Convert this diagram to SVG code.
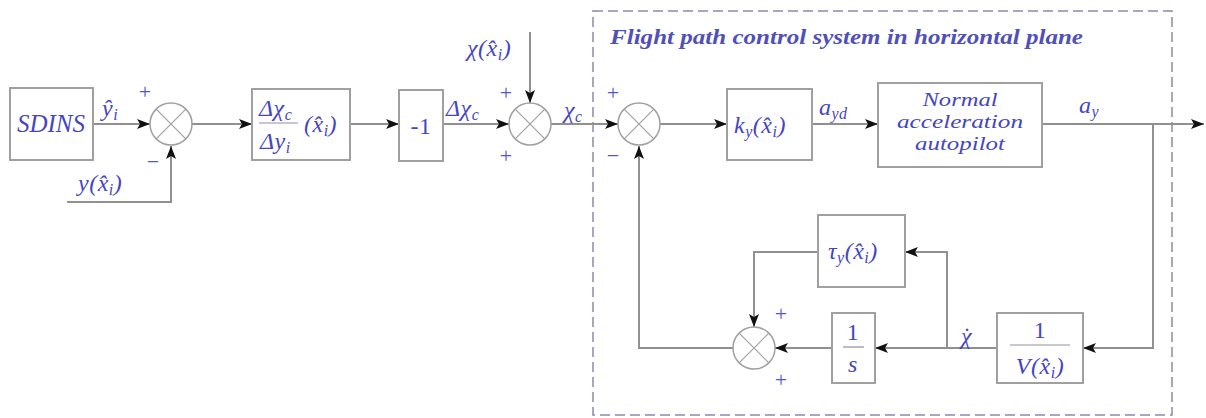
<svg xmlns="http://www.w3.org/2000/svg" width="1206" height="418" viewBox="0 0 1206 418">
<defs>
<style>
.box{fill:#fff;stroke:#a0a0a0;stroke-width:2}
.sum{fill:#fff;stroke:#a0a0a0;stroke-width:1.5}
.x{stroke:#a0a0a0;stroke-width:1.2}
.ln{fill:none;stroke:#909090;stroke-width:2}
.bar{stroke:#9090a0;stroke-width:1.2}
.t{font-family:"Liberation Serif",serif;font-style:italic;fill:#4646bf;font-size:24px;letter-spacing:0.5px}
.up{font-style:normal}
.c{text-anchor:middle}
.s{font-size:16px}
.sg{font-family:"Liberation Serif",serif;fill:#5555cc;font-size:22px;text-anchor:middle}
.ap{font-family:"Liberation Serif",serif;font-style:italic;fill:#4646bf;font-size:19px;text-anchor:middle}
.title{font-family:"Liberation Serif",serif;font-style:italic;font-weight:bold;fill:#5050b8;font-size:21px}
</style>
<marker id="ah" markerUnits="userSpaceOnUse" markerWidth="14" markerHeight="10" refX="13" refY="5" orient="auto">
<path d="M0,0 L13,5 L0,10 L3,5 Z" fill="#111"/>
</marker>
</defs>
<rect width="1206" height="418" fill="#fff"/>

<g id="subsystem">
<rect x="593" y="11" width="579" height="404" fill="none" stroke="#8a8aa8" stroke-width="1.5" stroke-dasharray="10 5"/>
<text class="title" x="610" y="44" textLength="473" lengthAdjust="spacingAndGlyphs">Flight path control system in horizontal plane</text>
</g>

<g id="connectors">
<path class="ln" d="M93,124 H150" marker-end="url(#ah)"/>
<path class="ln" d="M67,202 H171 V146" marker-end="url(#ah)"/>
<path class="ln" d="M192,124 H252" marker-end="url(#ah)"/>
<path class="ln" d="M350,124 H399" marker-end="url(#ah)"/>
<path class="ln" d="M443,124 H509" marker-end="url(#ah)"/>
<path class="ln" d="M530,32 V103" marker-end="url(#ah)"/>
<path class="ln" d="M551,124 H618" marker-end="url(#ah)"/>
<path class="ln" d="M660,124 H727" marker-end="url(#ah)"/>
<path class="ln" d="M812,124 H878" marker-end="url(#ah)"/>
<path class="ln" d="M1042,124 H1204" marker-end="url(#ah)"/>
<path class="ln" d="M1153,124 V348 H1083" marker-end="url(#ah)"/>
<path class="ln" d="M997,348 H875" marker-end="url(#ah)"/>
<path class="ln" d="M947,348 V252 H905" marker-end="url(#ah)"/>
<path class="ln" d="M818,252 H754 V327" marker-end="url(#ah)"/>
<path class="ln" d="M832,348 H775" marker-end="url(#ah)"/>
<path class="ln" d="M733,348 H639 V146" marker-end="url(#ah)"/>
</g>

<g id="sdins">
<rect class="box" x="10" y="88" width="83" height="72"/>
<text class="t c" x="51" y="132" style="font-size:25px;letter-spacing:0">SDINS</text>
</g>

<g id="labels-left">
<text class="t" x="102" y="116">ŷ<tspan class="s" dy="4">i</tspan></text>
<text class="sg" x="145" y="99">+</text>
<text class="sg" x="153" y="169">−</text>
<text class="t" x="78" y="191">y(x̂<tspan class="s" dy="4">i</tspan><tspan dy="-4">)</tspan></text>
</g>

<g id="sum1">
<circle class="sum" cx="171" cy="124" r="21"/>
<path class="x" d="M156.2,109.2 L185.8,138.8 M185.8,109.2 L156.2,138.8"/>
</g>

<g id="gain">
<rect class="box" x="252" y="89" width="98" height="71"/>
<text class="t" x="259" y="116">Δχ<tspan class="s" dy="4">c</tspan></text>
<line class="bar" x1="259" y1="123" x2="298" y2="123"/>
<text class="t" x="260" y="149">Δy<tspan class="s" dy="4">i</tspan></text>
<text class="t" x="304" y="132">(x̂<tspan class="s" dy="4">i</tspan><tspan dy="-4">)</tspan></text>
</g>

<g id="neg1">
<rect class="box" x="399" y="90" width="44" height="71"/>
<text class="t up c" x="421" y="134">-1</text>
</g>

<g id="labels-mid">
<text class="t" x="446" y="116">Δχ<tspan class="s" dy="4">c</tspan></text>
<text class="sg" x="506" y="100">+</text>
<text class="sg" x="506" y="163">+</text>
<text class="t" x="467" y="56">χ(x̂<tspan class="s" dy="4">i</tspan><tspan dy="-4">)</tspan></text>
<text class="t" x="564" y="118">χ<tspan class="s" dy="4">c</tspan></text>
<text class="sg" x="613" y="100">+</text>
<text class="sg" x="613" y="163">−</text>
</g>

<g id="sum2">
<circle class="sum" cx="530" cy="124" r="21"/>
<path class="x" d="M515.2,109.2 L544.8,138.8 M544.8,109.2 L515.2,138.8"/>
</g>

<g id="sum3">
<circle class="sum" cx="639" cy="124" r="21"/>
<path class="x" d="M624.2,109.2 L653.8,138.8 M653.8,109.2 L624.2,138.8"/>
</g>

<g id="ky">
<rect class="box" x="727" y="89" width="85" height="71"/>
<text class="t" x="734" y="133">k<tspan class="s" dy="4">y</tspan><tspan dy="-4">(x̂</tspan><tspan class="s" dy="4">i</tspan><tspan dy="-4">)</tspan></text>
</g>

<g id="autopilot">
<rect class="box" x="878" y="83" width="164" height="84"/>
<text class="ap" x="960" y="106" textLength="75" lengthAdjust="spacingAndGlyphs">Normal</text>
<text class="ap" x="960" y="128" textLength="126" lengthAdjust="spacingAndGlyphs">acceleration</text>
<text class="ap" x="960" y="150" textLength="90" lengthAdjust="spacingAndGlyphs">autopilot</text>
</g>

<g id="labels-right">
<text class="t" x="819" y="115">a<tspan class="s" dy="4">yd</tspan></text>
<text class="t" x="1079" y="113">a<tspan class="s" dy="4">y</tspan></text>
<text class="t" x="961" y="344">χ<tspan class="up" dx="-9">˙</tspan></text>
<text class="sg" x="781" y="321">+</text>
<text class="sg" x="781" y="387">+</text>
</g>

<g id="tau">
<rect class="box" x="818" y="215" width="87" height="72"/>
<text class="t" x="828" y="259">τ<tspan class="s" dy="4">y</tspan><tspan dy="-4">(x̂</tspan><tspan class="s" dy="4">i</tspan><tspan dy="-4">)</tspan></text>
</g>

<g id="sum4">
<circle class="sum" cx="754" cy="348" r="21"/>
<path class="x" d="M739.2,333.2 L768.8,362.8 M768.8,333.2 L739.2,362.8"/>
</g>

<g id="integrator">
<rect class="box" x="832" y="313" width="43" height="70"/>
<text class="t up c" x="853" y="340">1</text>
<line class="bar" x1="843" y1="347" x2="864" y2="347"/>
<text class="t c" x="853" y="372">s</text>
</g>

<g id="invV">
<rect class="box" x="997" y="313" width="86" height="70"/>
<text class="t up c" x="1040" y="338">1</text>
<line class="bar" x1="1010" y1="345" x2="1070" y2="345"/>
<text class="t c" x="1040" y="374">V(x̂<tspan class="s" dy="4">i</tspan><tspan dy="-4">)</tspan></text>
</g>
</svg>
